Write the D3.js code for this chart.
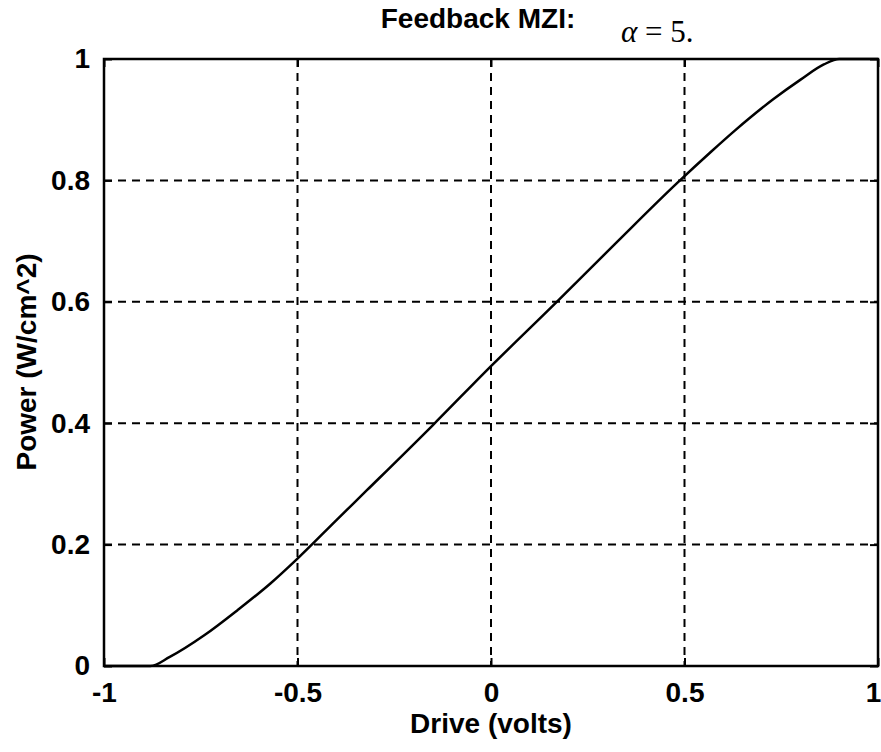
<!DOCTYPE html>
<html>
<head>
<meta charset="utf-8">
<script src="https://cdn.jsdelivr.net/npm/d3@7"></script>
<style>
  body { margin: 0; background: #fff; }
  text { font-family: "Liberation Sans", Arial, sans-serif; font-weight: bold; fill: #000; }
</style>
</head>
<body>
<svg id="chart" width="881" height="752"></svg>
<script>
// valores
const driveVolts = [-1, -0.88, -0.83, -0.74, -0.655, -0.57, -0.5, -0.4, -0.32, -0.15, 0, 0.17, 0.32, 0.48, 0.57, 0.63, 0.73, 0.8, 0.86, 0.9, 1];
const power = [0, 0, 0.015, 0.051, 0.092, 0.136, 0.177, 0.24, 0.29, 0.397, 0.494, 0.6, 0.695, 0.795, 0.848, 0.882, 0.934, 0.966, 0.991, 1, 1];
const xTicks = [-1, -0.5, 0, 0.5, 1];
const yTicks = [0, 0.2, 0.4, 0.6, 0.8, 1];

const esq = 104, dir = 878, topo = 59, base = 666;
const svg = d3.select("#chart");

const x = d3.scaleLinear().domain([-1, 1]).range([esq, dir]);
const y = d3.scaleLinear().domain([0, 1]).range([base, topo]);
const rotulo = d => String(d);

// grade tracejada
svg.append("g")
  .selectAll("line")
  .data(xTicks.slice(1, -1))
  .join("line")
  .attr("x1", d => x(d)).attr("x2", d => x(d))
  .attr("y1", topo).attr("y2", base)
  .attr("stroke", "#000").attr("stroke-width", 2)
  .attr("stroke-dasharray", "8,6");

svg.append("g")
  .selectAll("line")
  .data(yTicks.slice(1, -1))
  .join("line")
  .attr("x1", esq).attr("x2", dir)
  .attr("y1", d => y(d)).attr("y2", d => y(d))
  .attr("stroke", "#000").attr("stroke-width", 2)
  .attr("stroke-dasharray", "8,6");

// eixos (ticks para dentro)
const tick = 8;
const eixoX = svg.append("g")
  .attr("transform", `translate(0,${base})`)
  .call(d3.axisBottom(x).tickValues(xTicks).tickSize(-tick).tickPadding(16).tickFormat(rotulo))
  .call(g => g.select(".domain").remove());
svg.append("g")
  .attr("transform", `translate(0,${topo})`)
  .call(d3.axisTop(x).tickValues(xTicks).tickSize(-tick).tickFormat(""))
  .call(g => g.select(".domain").remove());
svg.append("g")
  .attr("transform", `translate(${esq},0)`)
  .call(d3.axisLeft(y).tickValues(yTicks).tickSize(-tick).tickPadding(14).tickFormat(rotulo))
  .call(g => g.select(".domain").remove());
svg.append("g")
  .attr("transform", `translate(${dir},0)`)
  .call(d3.axisRight(y).tickValues(yTicks).tickSize(-tick).tickFormat(""))
  .call(g => g.select(".domain").remove());

svg.selectAll(".tick line").attr("stroke", "#000").attr("stroke-width", 2);
svg.selectAll(".tick text")
  .attr("font-family", "Liberation Sans, Arial, sans-serif")
  .attr("font-weight", "bold")
  .attr("font-size", 28)
  .attr("fill", "#000");
// o "1" da direita fica dentro da janela
eixoX.selectAll(".tick text").filter(d => d === 1).attr("dx", -5);

// caixa
svg.append("rect")
  .attr("x", esq).attr("y", topo)
  .attr("width", dir - esq).attr("height", base - topo)
  .attr("fill", "none").attr("stroke", "#000").attr("stroke-width", 2.5);

// curva
const dados = driveVolts.map((v, i) => ({ v: v, p: power[i] }));
svg.append("path")
  .datum(dados)
  .attr("fill", "none")
  .attr("stroke", "#000")
  .attr("stroke-width", 2.5)
  .attr("d", d3.line()
    .x(d => x(d.v))
    .y(d => y(d.p))
    .curve(d3.curveMonotoneX));

// textos
svg.append("text")
  .attr("x", 478).attr("y", 28)
  .attr("text-anchor", "middle")
  .attr("font-size", 28)
  .text("Feedback MZI:");

const alfa = svg.append("text")
  .attr("x", 621).attr("y", 42)
  .style("font-family", "'Liberation Serif', 'Times New Roman', serif")
  .style("font-weight", "normal")
  .attr("font-size", 31);
alfa.append("tspan").attr("font-style", "italic").text("α");
alfa.append("tspan").text(" = 5.");

svg.append("text")
  .attr("x", 491).attr("y", 733)
  .attr("text-anchor", "middle")
  .attr("font-size", 28)
  .text("Drive (volts)");

svg.append("text")
  .attr("transform", "translate(36,362) rotate(-90)")
  .attr("text-anchor", "middle")
  .attr("font-size", 28)
  .text("Power (W/cm^2)");
</script>
</body>
</html>
